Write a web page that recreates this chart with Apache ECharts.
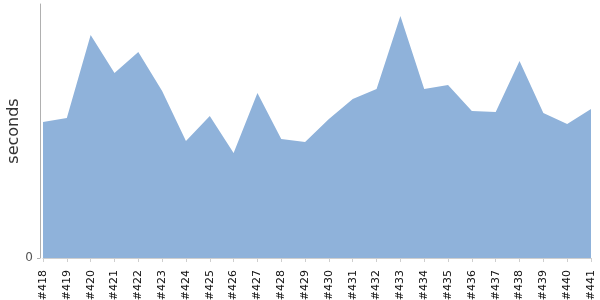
<!DOCTYPE html>
<html><head><meta charset="utf-8">
<script src="https://cdn.jsdelivr.net/npm/echarts@6/dist/echarts.min.js"></script>
<style>html,body{margin:0;padding:0;background:#fff}#c{width:600px;height:300px}</style>
</head><body><div id="c"></div>
<script>
var categories = ['#418','#419','#420','#421','#422','#423','#424','#425','#426','#427','#428','#429','#430','#431','#432','#433','#434','#435','#436','#437','#438','#439','#440','#441'];
var seconds = [136,140,223,185,206,167,117,142,105,165,119,116,139,159,169,242,169,173,147,146,197,145,134,149];
var yTickLabels = [0];
var chart = echarts.init(document.getElementById('c'), null, {renderer:'canvas'});
chart.setOption({
  animation:false,
  grid:{left:43,right:9,top:4,bottom:42,containLabel:false,outerBoundsMode:'none'},
  xAxis:{type:'category',data:categories,boundaryGap:false,offset:4,
    axisLine:{lineStyle:{color:'#cfcfcf',width:1}},
    axisTick:{alignWithLabel:true,length:4,lineStyle:{color:'#cfcfcf'}},
    axisLabel:{rotate:90,interval:0,fontFamily:'DejaVu Sans',fontSize:11,color:'#111',margin:8}},
  yAxis:{type:'value',min:0,max:254,offset:3,name:'seconds',nameLocation:'middle',nameGap:18,nameMoveOverlap:false,
    nameTextStyle:{fontFamily:'DejaVu Sans',fontSize:16,color:'#333'},
    axisLine:{show:true,lineStyle:{color:'#b0b0b0'}},
    axisTick:{show:true,length:3,customValues:yTickLabels,lineStyle:{color:'#b0b0b0'}},
    axisLabel:{customValues:yTickLabels,fontFamily:'DejaVu Sans',fontSize:12,color:'#555',margin:7},
    splitLine:{show:false}},
  series:[{type:'line',data:seconds,symbol:'none',lineStyle:{width:0},
    areaStyle:{color:'#8fb2da',opacity:1}}]
});
</script></body></html>
